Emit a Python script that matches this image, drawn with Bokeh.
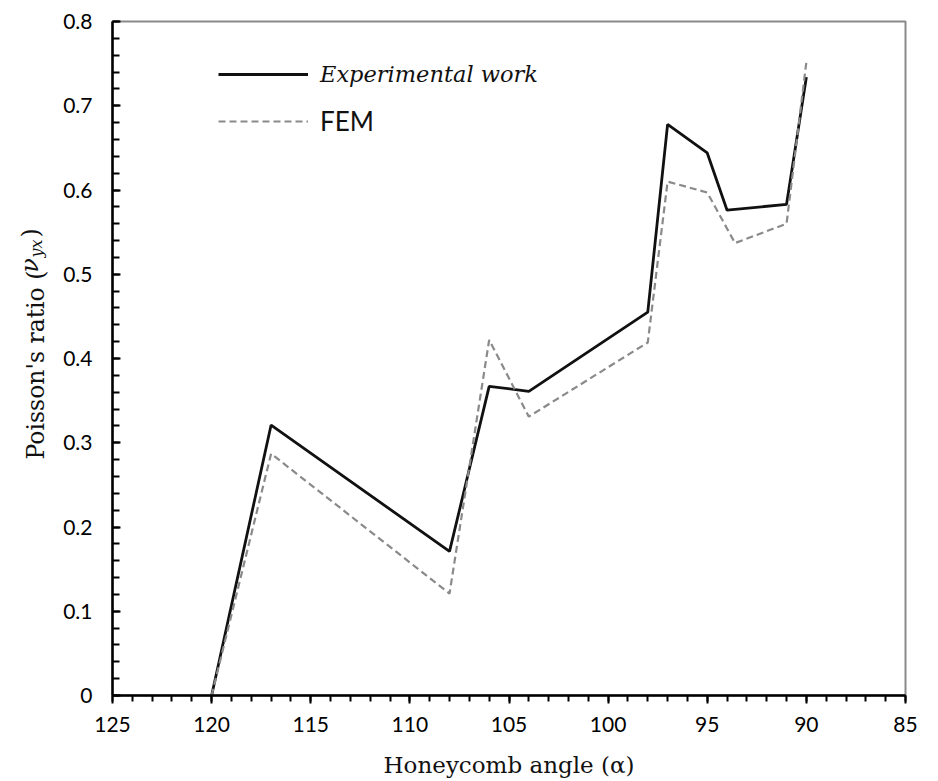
from bokeh.plotting import figure
from bokeh.models import (Range1d, SingleIntervalTicker, Legend, LegendItem, Label)
from bokeh.embed import file_html
from bokeh.resources import INLINE
import math

# ---- data ----
exp_x = [120, 117, 108, 106, 104, 98, 97, 95, 94, 91, 90]
exp_y = [0.0, 0.321, 0.171, 0.367, 0.361, 0.455, 0.678, 0.644, 0.576, 0.583, 0.734]
fem_x = [120, 117, 108, 106, 104, 98, 97, 95, 93.6, 91, 90]
fem_y = [0.0, 0.287, 0.121, 0.422, 0.331, 0.419, 0.610, 0.597, 0.537, 0.560, 0.752]

x_label = "Honeycomb angle (\u03b1)"
y_label_main = "Poisson's ratio ("
y_label_sym = "\u03bd"
y_label_sub = "yx"
y_label_close = ")"
exp_name = "Experimental work"
fem_name = "FEM"

SERIF = "DejaVu Serif"
SANS = "Lato"

p = figure(width=938, height=781, output_backend="svg", toolbar_location=None,
           x_range=Range1d(125, 85), y_range=Range1d(0, 0.8),
           min_border_left=112, min_border_right=33, min_border_top=21,
           min_border_bottom=86)
p.background_fill_color = "white"
p.border_fill_color = "white"
p.grid.visible = False
p.outline_line_color = "#8a8a8a"
p.outline_line_width = 2

# axes
p.xaxis.ticker = SingleIntervalTicker(interval=5, num_minor_ticks=5)
p.yaxis.ticker = SingleIntervalTicker(interval=0.1, num_minor_ticks=5)
for ax in (p.xaxis[0], p.yaxis[0]):
    ax.axis_line_color = "black"
    ax.axis_line_width = 2.5
    ax.major_tick_line_color = "black"
    ax.minor_tick_line_color = "black"
    ax.major_tick_line_width = 2
    ax.minor_tick_line_width = 2
    ax.major_label_text_font = SANS
    ax.major_label_text_font_size = "21px"
    ax.major_label_text_color = "black"

p.xaxis.major_tick_in = 0
p.xaxis.major_tick_out = 8
p.xaxis.minor_tick_in = 0
p.xaxis.minor_tick_out = 6
p.xaxis.major_label_standoff = 13
p.xaxis.axis_label = x_label
p.xaxis.axis_label_text_font = SERIF
p.xaxis.axis_label_text_font_style = "normal"
p.xaxis.axis_label_text_font_size = "23px"
p.xaxis.axis_label_text_color = "#111111"
p.xaxis.axis_label_standoff = 17

p.yaxis.major_tick_in = 8
p.yaxis.major_tick_out = 0
p.yaxis.minor_tick_in = 7
p.yaxis.minor_tick_out = 0
p.yaxis.major_label_standoff = 20
p.yaxis.formatter.use_scientific = False

# lines
r_exp = p.line(exp_x, exp_y, line_color="#111111", line_width=2.8)
r_fem = p.line(fem_x, fem_y, line_color="#8a8a8a", line_width=2.2, line_dash="7 4")

# legends (two, to allow different fonts)
leg1 = Legend(items=[LegendItem(label=exp_name, renderers=[r_exp])],
              location=(106, 606), glyph_width=90, glyph_height=30,
              label_height=30, label_standoff=12, padding=0, margin=0,
              border_line_color=None, background_fill_alpha=0,
              label_text_font=SERIF, label_text_font_style="italic",
              label_text_font_size="22.5px", label_text_color="#111111")
leg2 = Legend(items=[LegendItem(label=fem_name, renderers=[r_fem])],
              location=(106, 558), glyph_width=90, glyph_height=30,
              label_height=30, label_standoff=12, padding=0, margin=0,
              border_line_color=None, background_fill_alpha=0,
              label_text_font=SANS, label_text_font_size="26px",
              label_text_color="#111111")
p.add_layout(leg1, "center")
p.add_layout(leg2, "center")

# y-axis label composed of pieces (italic nu with subscript), rotated,
# positioned in canvas pixels; spread over side panels to keep the frame in place
ang = math.pi / 2
pieces = [
    (y_label_main, 35, 459, "normal", "23.5px", "left"),
    (y_label_sym, 29, 272, "italic", "23.5px", "left"),
    (y_label_sub, 36, 257, "italic", "16px", "above"),
    (y_label_close, 30, 237, "normal", "23.5px", "right"),
]
for txt, xx, yy, style, size, side in pieces:
    p.add_layout(Label(x=xx, y=yy, x_units="canvas", y_units="canvas", text=txt,
                       angle=ang, text_align="left", text_baseline="alphabetic",
                       text_font=SERIF, text_font_style=style,
                       text_font_size=size, text_color="#111111"), side)

open("out.html", "w").write(file_html(p, INLINE))
